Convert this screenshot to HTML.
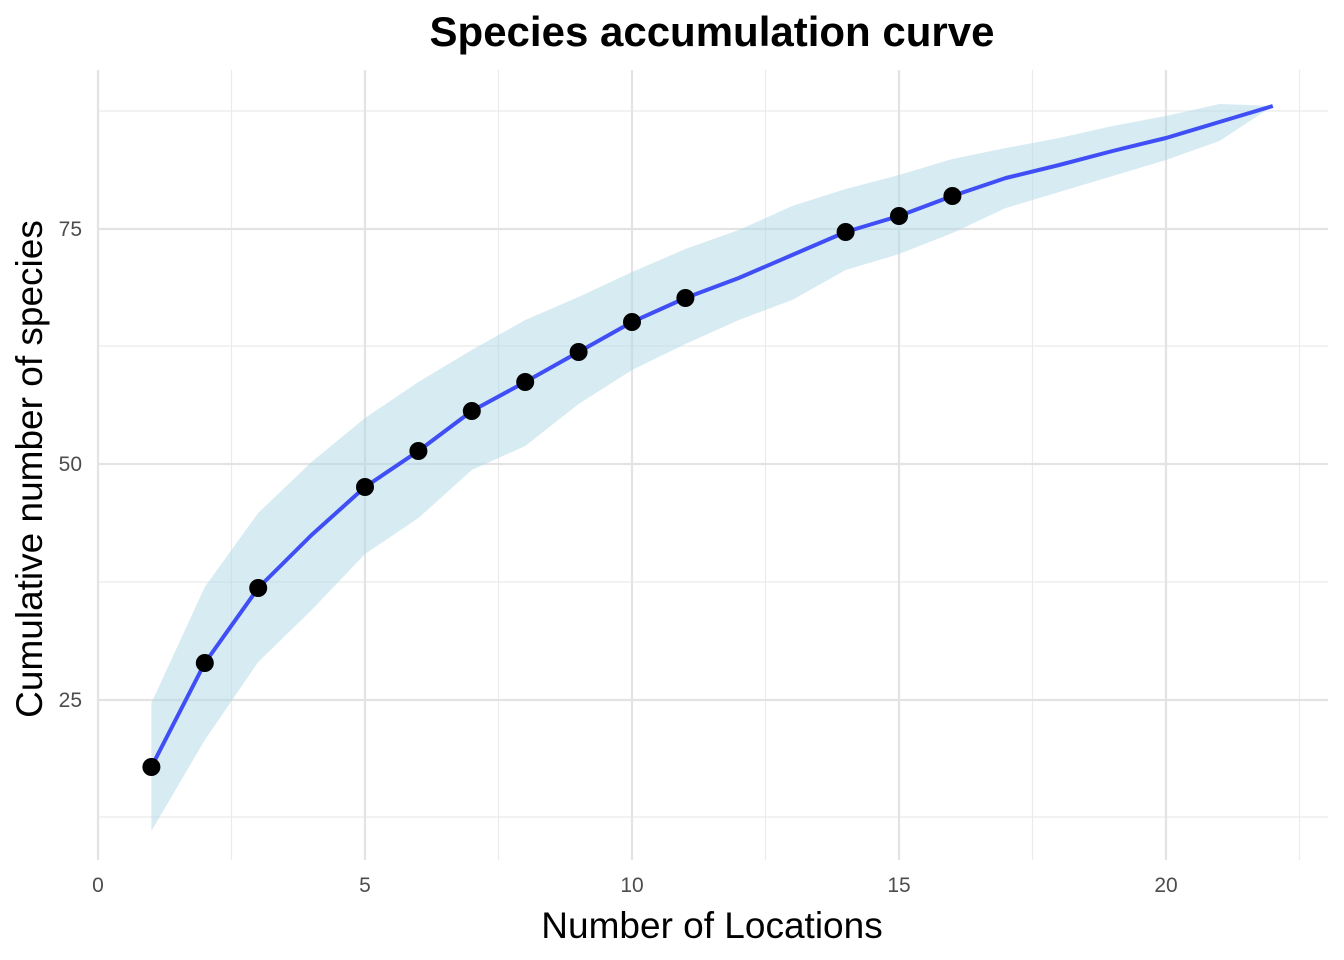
<!DOCTYPE html>
<html><head><style>body{margin:0;background:#fff}svg{display:block}</style></head><body>
<svg width="1344" height="960" xmlns="http://www.w3.org/2000/svg" font-family="Liberation Sans, Arial, sans-serif">
<rect width="1344" height="960" fill="#fff"/>
<g stroke="#ebebeb" stroke-width="1.2">
<line x1="98" x2="1328" y1="817" y2="817"/><line x1="98" x2="1328" y1="582" y2="582"/><line x1="98" x2="1328" y1="346" y2="346"/><line x1="98" x2="1328" y1="111" y2="111"/>
<line x1="231.5" x2="231.5" y1="70" y2="860"/><line x1="498.5" x2="498.5" y1="70" y2="860"/><line x1="765.5" x2="765.5" y1="70" y2="860"/><line x1="1032.5" x2="1032.5" y1="70" y2="860"/><line x1="1299.5" x2="1299.5" y1="70" y2="860"/>
</g>
<g stroke="#e3e3e3" stroke-width="2.2">
<line x1="98" x2="1328" y1="700" y2="700"/><line x1="98" x2="1328" y1="464" y2="464"/><line x1="98" x2="1328" y1="229" y2="229"/>
<line x1="98" x2="98" y1="70" y2="860"/><line x1="365" x2="365" y1="70" y2="860"/><line x1="632" x2="632" y1="70" y2="860"/><line x1="899" x2="899" y1="70" y2="860"/><line x1="1166" x2="1166" y1="70" y2="860"/>
</g>
<polygon fill="#add8e6" fill-opacity="0.5" points="151.4,703 204.8,587 258.2,513 311.6,462 365,418 418.4,382 471.8,350 525.2,320 578.6,297 632,272 685.4,249 738.8,230 792.2,206 845.6,189 899,175 952.4,159 1005.8,148 1059.2,138 1112.6,126 1166,116 1219.4,104 1272.8,106 1219.4,141 1166,160 1112.6,176 1059.2,192 1005.8,208 952.4,233 899,254 845.6,270 792.2,300 738.8,320 685.4,344 632,370 578.6,404 525.2,446 471.8,470 418.4,518 365,554 311.6,610 258.2,662 204.8,740 151.4,831"/>
<polyline fill="none" stroke="#3f4ff5" stroke-width="4" stroke-linejoin="round" points="151.4,767 204.8,663 258.2,588 311.6,535 365,487 418.4,451 471.8,411 525.2,382 578.6,352 632,322 685.4,298 738.8,278 792.2,255 845.6,232 899,216 952.4,196 1005.8,178 1059.2,165 1112.6,151 1166,138 1219.4,122 1272.8,106"/>
<g fill="#000">
<circle cx="151.4" cy="767" r="9"/><circle cx="204.8" cy="663" r="9"/><circle cx="258.2" cy="588" r="9"/><circle cx="365" cy="487" r="9"/><circle cx="418.4" cy="451" r="9"/><circle cx="471.8" cy="411" r="9"/><circle cx="525.2" cy="382" r="9"/><circle cx="578.6" cy="352" r="9"/><circle cx="632" cy="322" r="9"/><circle cx="685.4" cy="298" r="9"/><circle cx="845.6" cy="232" r="9"/><circle cx="899" cy="216" r="9"/><circle cx="952.4" cy="196" r="9"/>
</g>
<g fill="#4d4d4d" font-size="21" text-anchor="end">
<text x="82" y="707">25</text><text x="82" y="471">50</text><text x="82" y="236">75</text>
</g>
<g fill="#4d4d4d" font-size="21" text-anchor="middle">
<text x="98" y="892">0</text><text x="365" y="892">5</text><text x="632" y="892">10</text><text x="899" y="892">15</text><text x="1166" y="892">20</text>
</g>
<text x="712" y="938" font-size="37" text-anchor="middle" fill="#000">Number of Locations</text>
<text transform="translate(42,469) rotate(-90)" font-size="37" text-anchor="middle" fill="#000">Cumulative number of species</text>
<text x="712" y="46" font-size="42" font-weight="bold" text-anchor="middle" fill="#000">Species accumulation curve</text>
</svg>
</body></html>
